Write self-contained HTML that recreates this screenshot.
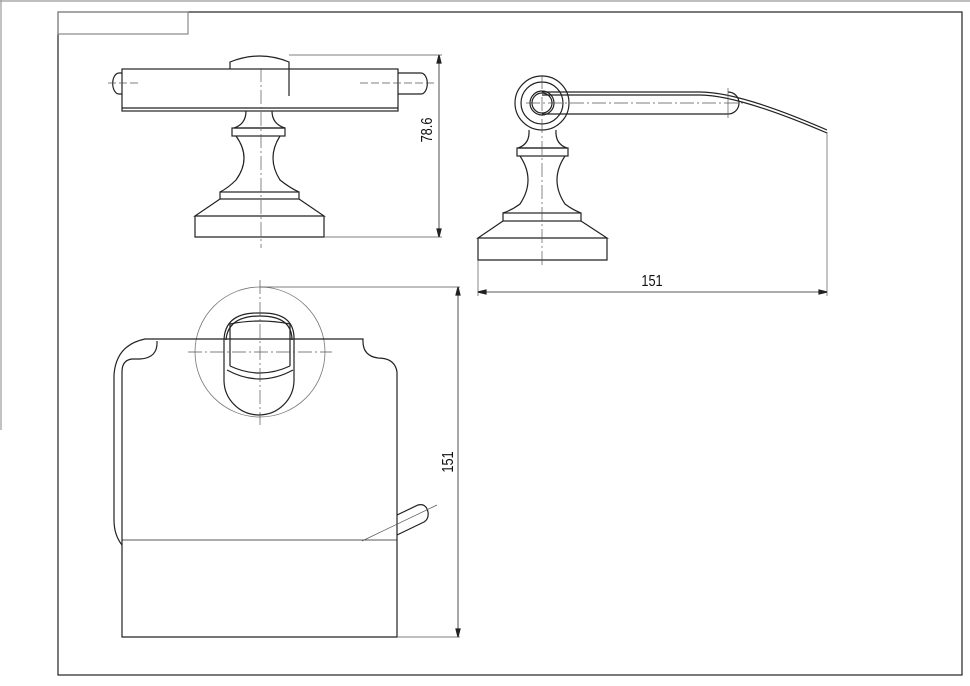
<!DOCTYPE html>
<html><head><meta charset="utf-8"><style>
html,body{margin:0;padding:0;background:#fff;width:970px;height:686px;overflow:hidden}
svg{display:block}
text{font-family:"Liberation Sans",sans-serif;font-size:16px;fill:#111}
</style></head><body>
<svg width="970" height="686" viewBox="0 0 970 686" xmlns="http://www.w3.org/2000/svg">
<g fill="none" stroke="#222" stroke-width="1.2">
<line x1="0" y1="1" x2="970" y2="1" stroke="#999"/>
<line x1="1" y1="0" x2="1" y2="430" stroke="#999"/>
<rect x="58" y="12" width="904" height="663"/>
<rect x="58" y="12" width="130" height="22" stroke="#888"/>

<!-- VIEW 1 -->
<rect x="122" y="69" width="276" height="42"/>
<line x1="122" y1="108" x2="398" y2="108"/>
<path d="M230 69 V62 Q260 50 289 62 V96"/>
<path d="M122 73 H119 A6 10 0 0 0 119 94 H122"/>
<path d="M398 73 H421 A6 10 0 0 1 421 94 H398"/>
<path d="M246 111 Q246 124 234 128 H285 Q272 124 272 111"/>
<rect x="232" y="128" width="53" height="8"/>
<path d="M236 136 Q252 158 236 180 Q228 188 220 192 M280 136 Q266 158 280 180 Q290 188 299 192"/>
<rect x="220" y="192" width="79" height="7"/>
<path d="M220 199 L195 216 H324 L299 199 M195 216 V237 H324 V216"/>
<g stroke="#555" stroke-width="0.7">
<line x1="261" y1="68" x2="261" y2="248" stroke-dasharray="14 3 2 3"/>
<line x1="108" y1="83" x2="140" y2="83" stroke-dasharray="8 3"/>
<line x1="360" y1="83" x2="435" y2="83" stroke-dasharray="8 3"/>
<line x1="289" y1="55" x2="442" y2="55"/>
<line x1="324" y1="237" x2="442" y2="237"/>
</g>
<line x1="439" y1="55" x2="439" y2="237" stroke-width="0.8"/>
<path d="M439 55 l-2 8 h4z M439 237 l-2 -8 h4z" fill="#222"/>

<!-- VIEW 2 -->
<circle cx="542" cy="103" r="27"/>
<circle cx="542" cy="103" r="21"/>
<path d="M542 92 H700 Q740 92 827 130 M542 95 H700 Q738 95 827 133"/>
<path d="M542 114 H728 A11 11 0 0 0 728 92"/>
<circle cx="542" cy="103" r="12"/>
<circle cx="542" cy="103" r="10"/>
<path d="M529 130 Q530 144 518 148 H567 Q555 144 556 130"/>
<rect x="517" y="148" width="51" height="8"/>
<path d="M520 156 Q536 180 520 204 Q512 210 503 213 M565 156 Q549 180 565 204 Q573 210 581 213"/>
<rect x="503" y="213" width="78" height="8"/>
<path d="M503 221 L478 238 H607 L581 221 M478 238 V260 H607 V238"/>
<g stroke="#555" stroke-width="0.7">
<line x1="542" y1="75" x2="542" y2="268" stroke-dasharray="14 3 2 3"/>
<line x1="526" y1="103" x2="745" y2="103" stroke-dasharray="14 3 2 3"/>
<line x1="728" y1="88" x2="728" y2="118"/>
<line x1="478" y1="260" x2="478" y2="296"/>
<line x1="827" y1="132" x2="827" y2="296"/>
</g>
<line x1="478" y1="292" x2="827" y2="292" stroke-width="0.8"/>
<path d="M478 292 l8 -2 v4z M827 292 l-8 -2 v4z" fill="#222"/>

<!-- VIEW 3 -->
<circle cx="260" cy="352" r="65" stroke="#777" stroke-width="0.8"/>
<path d="M157 339 H363 Q362 356 378 358 Q395 358 397 372 V637 H122 V372"/>
<path d="M157 341 Q158 358 140 359 H132 Q122 360 122 372"/>
<path d="M157 339 H145 Q116 345 114 375 V520 Q114 535 122 545"/>
<line x1="122" y1="540" x2="397" y2="540" stroke-width="0.8"/>
<path d="M224 340 V380 A35 35 0 0 0 294 380 V340"/>
<path d="M224 340 Q225 312 260 313 Q295 312 294 340"/>
<path d="M226 340 Q228 316 260 316 Q292 316 292 340"/>
<path d="M230 324 Q260 318 290 324 M230 366 Q260 380 290 366 M227 370 Q260 388 293 370"/>
<line x1="230" y1="324" x2="230" y2="366"/>
<line x1="290" y1="324" x2="290" y2="366"/>
<path d="M397 515 L418 505 Q426 503 428 512 Q429 519 424 522 L397 535"/>
<g stroke="#555" stroke-width="0.7">
<line x1="260" y1="280" x2="260" y2="425" stroke-dasharray="14 3 2 3"/>
<line x1="188" y1="352" x2="332" y2="352" stroke-dasharray="14 3 2 3"/>
<line x1="362" y1="541" x2="437" y2="505"/>
<line x1="260" y1="287" x2="460" y2="287"/>
<line x1="397" y1="637" x2="460" y2="637"/>
</g>
<line x1="458" y1="287" x2="458" y2="637" stroke-width="0.8"/>
<path d="M458 287 l-2 8 h4z M458 637 l-2 -8 h4z" fill="#222"/>
</g>
<text transform="translate(652,286) scale(0.8,1)" text-anchor="middle">151</text>
<text transform="translate(432,130) rotate(-90) scale(0.8,1)" text-anchor="middle">78.6</text>
<text transform="translate(453,462) rotate(-90) scale(0.8,1)" text-anchor="middle">151</text>
</svg>
</body></html>
